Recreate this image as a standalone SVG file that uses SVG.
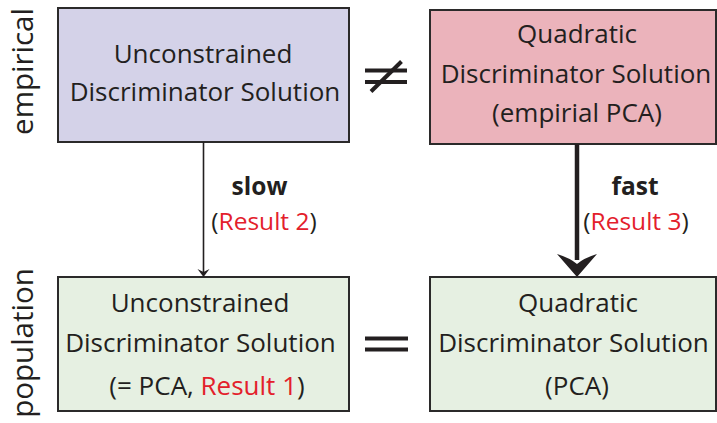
<svg xmlns="http://www.w3.org/2000/svg" width="717" height="423" viewBox="0 0 717 423">
<style>
.box{stroke:#2b2a2a;stroke-width:2}
.t{font-family:"Open Sans","Noto Sans",sans-serif;font-size:26px;fill:#231f20;text-anchor:middle}
.lbl{font-family:"Open Sans","Noto Sans",sans-serif;font-size:24.5px;fill:#231f20;text-anchor:middle}
.side{font-family:"Open Sans","Noto Sans",sans-serif;font-size:29.5px;fill:#231f20;text-anchor:middle}
.red{fill:#e3202b}
.b{font-weight:bold}
.sym{stroke:#231f20;stroke-width:4;fill:none}
</style>
<rect width="717" height="423" fill="#ffffff"/>
<text class="side" transform="translate(33,71.5) rotate(-90)">empirical</text>
<text class="side" transform="translate(33,343) rotate(-90)">population</text>
<g id="n1">
<rect class="box" x="58" y="8" width="291" height="134" fill="#d4d2e8"/>
<text class="t" x="203" y="63">Unconstrained</text>
<text class="t" x="205" y="100.5">Discriminator Solution</text>
</g>
<g id="n2">
<rect class="box" x="430" y="10" width="286" height="134" fill="#ebb3bb"/>
<text class="t" x="577" y="43">Quadratic</text>
<text class="t" x="576" y="82.5">Discriminator Solution</text>
<text class="t" x="577" y="121.5">(empirial PCA)</text>
</g>
<g id="n3">
<rect class="box" x="58" y="277" width="291" height="134" fill="#e6f0e2"/>
<text class="t" x="200" y="311.5">Unconstrained</text>
<text class="t" x="200.5" y="351.5">Discriminator Solution</text>
<text class="t" x="207" y="395">(= PCA, <tspan class="red">Result 1</tspan>)</text>
</g>
<g id="n4">
<rect class="box" x="430" y="277" width="286" height="134" fill="#e6f0e2"/>
<text class="t" x="578" y="311.5">Quadratic</text>
<text class="t" x="573.5" y="351.5">Discriminator Solution</text>
<text class="t" x="577" y="395">(PCA)</text>
</g>
<g id="connectors">
<line x1="203.5" y1="142" x2="203.5" y2="272" stroke="#231f20" stroke-width="1.6"/>
<path d="M197.5,269 L203.5,277 L209.5,269 L203.5,272 Z" fill="#231f20"/>
<line x1="577" y1="144" x2="577" y2="260" stroke="#231f20" stroke-width="4.5"/>
<path d="M557,254 Q570,258 577,264 Q584,258 597,254 L577,277 Z" fill="#231f20"/>
<text class="lbl b" x="259.5" y="195">slow</text>
<text class="lbl" x="264" y="229.5">(<tspan class="red">Result 2</tspan>)</text>
<text class="lbl b" x="635" y="195">fast</text>
<text class="lbl" x="636" y="229.5">(<tspan class="red">Result 3</tspan>)</text>
</g>
<g id="relations">
<line class="sym" x1="365" y1="70.5" x2="407" y2="70.5"/>
<line class="sym" x1="365" y1="82" x2="407" y2="82"/>
<line class="sym" x1="371" y1="91.5" x2="401.5" y2="61.5"/>
<line class="sym" x1="365" y1="338.5" x2="408" y2="338.5"/>
<line class="sym" x1="365" y1="349.5" x2="408" y2="349.5"/>
</g>
</svg>
